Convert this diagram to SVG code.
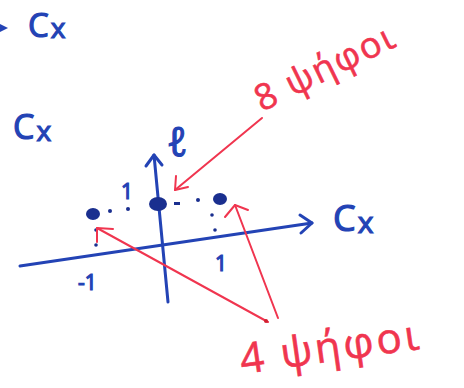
<svg xmlns="http://www.w3.org/2000/svg" width="464" height="388" viewBox="0 0 464 388">
<defs>
<style>
.b{fill:none;stroke:#2343b5;stroke-width:3;stroke-linecap:round;stroke-linejoin:round}
.r{fill:none;stroke:#f0354f;stroke-width:2;stroke-linecap:round;stroke-linejoin:round}
.bt{fill:#2343b5;stroke:#2343b5;stroke-width:1.2;font-family:"Open Sans","Liberation Sans",sans-serif}
.rt{fill:#f0354f;stroke:#f0354f;stroke-width:0.6;font-family:"Open Sans","Liberation Sans",sans-serif}
.dot{fill:#1a2f8f}
</style>
</defs>
<rect width="464" height="388" fill="#ffffff"/>
<g id="top-label">
<path d="M0 24 L8 28 L0 32 Z" fill="#2343b5"/>
<text class="bt" x="28" y="37" font-size="33" letter-spacing="2">C<tspan font-size="28" dy="1">x</tspan></text>
</g>
<g id="left-label">
<text class="bt" x="13" y="139" font-size="34" letter-spacing="2">C<tspan font-size="28" dy="2">x</tspan></text>
</g>
<g id="axes">
<path class="b" d="M20 266 L312 223"/>
<path class="b" d="M300 215 L312 223 L301 233"/>
<path class="b" d="M168 302 L154 155"/>
<path class="b" d="M146 166 L154 155 L162 165"/>
<text class="bt" x="167" y="156" font-size="40" font-style="italic">ℓ</text>
<text class="bt" x="333" y="231" font-size="36" letter-spacing="2">C<tspan font-size="30" dy="2">x</tspan></text>
</g>
<g id="points">
<ellipse class="dot" cx="93" cy="214" rx="7" ry="6"/>
<ellipse class="dot" cx="158" cy="204" rx="9" ry="7"/>
<ellipse class="dot" cx="220" cy="199" rx="7" ry="6"/>
<circle class="dot" cx="110" cy="211" r="2"/>
<circle class="dot" cx="128" cy="209" r="2"/>
<rect class="dot" x="174" y="202" width="6" height="3"/>
<circle class="dot" cx="198" cy="200" r="2"/>
<circle class="dot" cx="96" cy="230" r="1.8"/>
<circle class="dot" cx="96" cy="245" r="1.8"/>
<circle class="dot" cx="212" cy="215" r="1.8"/>
<circle class="dot" cx="215" cy="230" r="1.8"/>
<text class="bt" x="121" y="199" font-size="21">1</text>
<text class="bt" x="215" y="271" font-size="21">1</text>
<text class="bt" x="78" y="290" font-size="21">-1</text>
</g>
<g id="label-8">
<text class="rt" x="262" y="112" font-size="36" letter-spacing="2" transform="rotate(-26 262 112)">8 ψήφοι</text>
</g>
<g id="label-4">
<text class="rt" x="242" y="374" font-size="42" letter-spacing="3" transform="rotate(-8 242 374)">4 ψήφοι</text>
</g>
<g id="connectors">
<path class="r" d="M262 118 L175 190"/>
<path class="r" d="M176 176 L175 190 L188 187"/>
<path class="r" d="M268 322 L97 228"/>
<path class="r" d="M97 242 L97 228 L113 229"/>
<path class="r" d="M278 318 L235 205"/>
<path class="r" d="M225 217 L235 205 L248 210"/>
<circle cx="266" cy="321" r="2" fill="#d02030"/>
</g>
</svg>
